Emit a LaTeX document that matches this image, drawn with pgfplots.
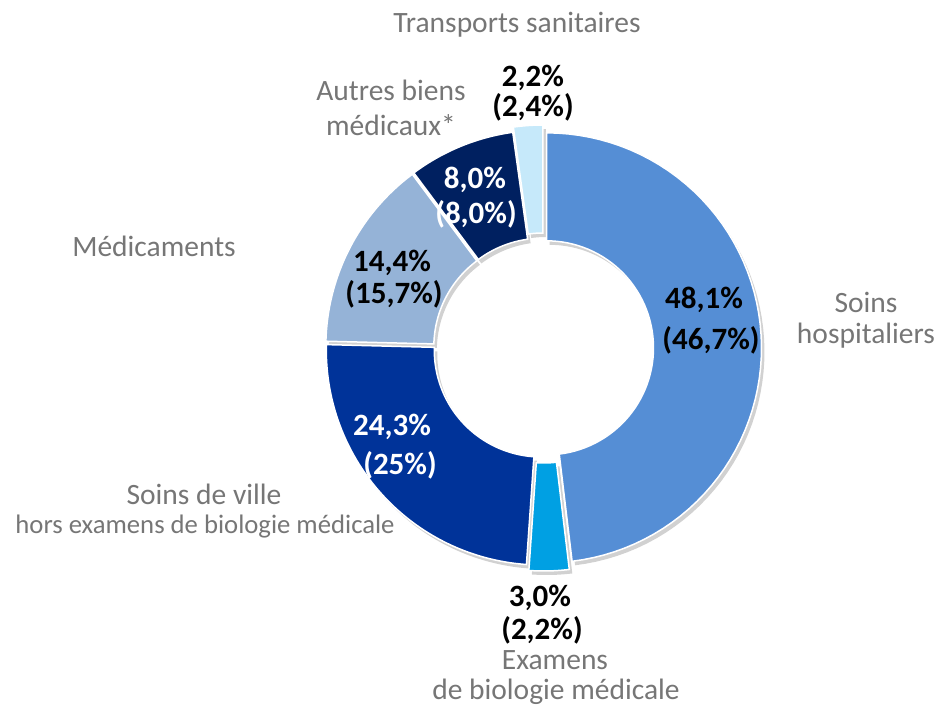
\documentclass[border=0pt]{standalone}
\usepackage{pgfplots}
\pgfplotsset{compat=1.18}
\usepackage{pgfplotstable}
\usepackage{fontspec}
\setmainfont{Carlito}
\definecolor{cA}{RGB}{85,142,213}
\definecolor{cB}{RGB}{0,160,227}
\definecolor{cC}{RGB}{0,51,153}
\definecolor{cD}{RGB}{149,179,215}
\definecolor{cE}{RGB}{0,32,96}
\definecolor{cF}{RGB}{198,233,250}
\definecolor{labgray}{RGB}{118,118,118}
\pgfplotstableread{
value off col
48.1 3 cA
3.0 8 cB
24.3 3 cC
14.4 3 cD
8.0 3 cE
2.2 8 cF
}\pietable
\newcommand\lab[3]{\node[text=labgray,font=\fontsize{29.5}{34}\selectfont,inner sep=0pt] at (axis cs:#1,707-#2) {#3};}
\newcommand\labs[3]{\node[text=labgray,font=\fontsize{26.7}{32}\selectfont,inner sep=0pt] at (axis cs:#1,707-#2) {#3};}
\newcommand\valb[3]{\node[text=black,font=\bfseries\fontsize{31}{34}\selectfont,inner sep=0pt] at (axis cs:#1,707-#2) {#3};}
\newcommand\valw[3]{\node[text=white,font=\bfseries\fontsize{31}{34}\selectfont,inner sep=0pt] at (axis cs:#1,707-#2) {#3};}
\begin{document}
\begin{tikzpicture}
\begin{axis}[scale only axis, width=937pt, height=707pt,
  xmin=0, xmax=937, ymin=0, ymax=707, hide axis, clip=false]
\path (axis cs:0,0) rectangle (axis cs:937,707);
\pgfplotstablegetrowsof{\pietable}
\pgfmathtruncatemacro\N{\pgfplotsretval-1}
% shadows
\def\cum{0}
\pgfplotsforeachungrouped \i in {0,...,\N}{%
  \pgfplotstablegetelem{\i}{value}\of\pietable \let\v\pgfplotsretval
  \pgfplotstablegetelem{\i}{off}\of\pietable \let\o\pgfplotsretval
  \pgfmathsetmacro\aS{90-3.6*\cum}%
  \pgfmathsetmacro\aE{90-3.6*(\cum+\v)}%
  \pgfmathsetmacro\aM{(\aS+\aE)/2}%
  \pgfmathsetmacro\cx{543.5+\o*cos(\aM)+3}%
  \pgfmathsetmacro\cy{359+\o*sin(\aM)-4}%
  \edef\temp{\noexpand\addplot[draw=none, fill=black, fill opacity=0.18, samples at={0,...,121}, variable=\noexpand\t]
   ({\cx+ifthenelse(\noexpand\t<60.5,215,107)*cos(ifthenelse(\noexpand\t<60.5,(\aS)+((\aE)-(\aS))*\noexpand\t/60,(\aE)+((\aS)-(\aE))*(\noexpand\t-61)/60))},
    {\cy+ifthenelse(\noexpand\t<60.5,215,107)*sin(ifthenelse(\noexpand\t<60.5,(\aS)+((\aE)-(\aS))*\noexpand\t/60,(\aE)+((\aS)-(\aE))*(\noexpand\t-61)/60))}) -- cycle;}%
  \temp
  \pgfmathsetmacro\cum{\cum+\v}%
}
% slices
\def\cum{0}
\pgfplotsforeachungrouped \i in {0,...,\N}{%
  \pgfplotstablegetelem{\i}{value}\of\pietable \let\v\pgfplotsretval
  \pgfplotstablegetelem{\i}{off}\of\pietable \let\o\pgfplotsretval
  \pgfplotstablegetelem{\i}{col}\of\pietable \let\c\pgfplotsretval
  \pgfmathsetmacro\aS{90-3.6*\cum}%
  \pgfmathsetmacro\aE{90-3.6*(\cum+\v)}%
  \pgfmathsetmacro\aM{(\aS+\aE)/2}%
  \pgfmathsetmacro\cx{543.5+\o*cos(\aM)}%
  \pgfmathsetmacro\cy{359+\o*sin(\aM)}%
  \edef\temp{\noexpand\addplot[draw=white, line width=1.5pt, fill=\c, samples at={0,...,121}, variable=\noexpand\t]
   ({\cx+ifthenelse(\noexpand\t<60.5,215,107)*cos(ifthenelse(\noexpand\t<60.5,(\aS)+((\aE)-(\aS))*\noexpand\t/60,(\aE)+((\aS)-(\aE))*(\noexpand\t-61)/60))},
    {\cy+ifthenelse(\noexpand\t<60.5,215,107)*sin(ifthenelse(\noexpand\t<60.5,(\aS)+((\aE)-(\aS))*\noexpand\t/60,(\aE)+((\aS)-(\aE))*(\noexpand\t-61)/60))}) -- cycle;}%
  \temp
  \pgfmathsetmacro\cum{\cum+\v}%
}
\lab{517}{25}{Transports sanitaires}
\lab{391}{90}{Autres biens}
\lab{391}{125}{médicaux*}
\lab{154}{246}{Médicaments}
\lab{866}{302}{Soins}
\lab{866}{336}{hospitaliers}
\lab{204}{494}{Soins de ville}
\labs{205}{527}{hors examens de biologie médicale}
\lab{555}{660}{Examens}
\lab{556}{692}{de biologie médicale}
\valb{533}{78}{2,2\%}
\valb{533}{107}{(2,4\%)}
\valw{475}{180}{8,0\%}
\valw{476}{214}{(8,0\%)}
\valb{392}{263}{14,4\%}
\valb{394}{294}{(15,7\%)}
\valb{704}{300}{48,1\%}
\valb{711}{340}{(46,7\%)}
\valw{392}{427}{24,3\%}
\valw{400}{465}{(25\%)}
\valb{540}{598}{3,0\%}
\valb{542}{630}{(2,2\%)}
\end{axis}
\end{tikzpicture}
\end{document}
